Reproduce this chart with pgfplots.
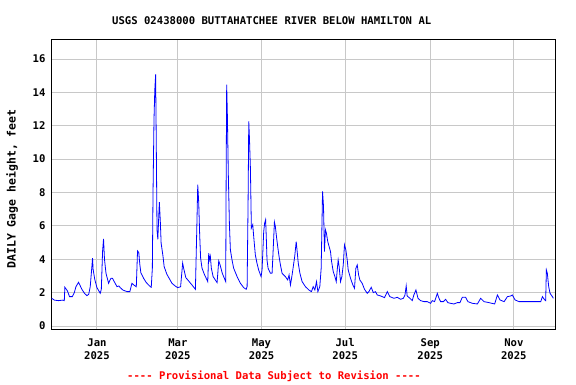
\documentclass[border=0pt]{standalone}
\usepackage{pgfplots}
\pgfplotsset{compat=1.18}
\usepackage{fontspec}
\setmainfont{DejaVu Sans Mono}
\setmonofont{DejaVu Sans Mono}
\definecolor{gridgray}{RGB}{200,200,200}
\begin{document}
\begin{tikzpicture}[x=1pt,y=1pt]
\path[use as bounding box] (0,0) rectangle (576,384);
\begin{axis}[
  at={(51pt,55pt)}, anchor=south west,
  scale only axis, width=504pt, height=290pt,
  xmin=-33.5, xmax=334, ymin=-0.18, ymax=17.2,
  xtick={0,59,120,181,243,304},
  xticklabels={Jan\\2025,Mar\\2025,May\\2025,Jul\\2025,Sep\\2025,Nov\\2025},
  ytick={0,2,4,6,8,10,12,14,16},
  xmajorgrids, ymajorgrids,
  grid style={gridgray, line width=0.9pt},
  major tick length=0pt,
  axis line style={black, line width=0.9pt},
  /pgf/number format/assume math mode=true,
  tick label style={font=\ttfamily\fontsize{10.6}{13}\selectfont\bfseries},
  xticklabel style={align=center, yshift=-6pt},
  yticklabel style={xshift=-2pt},
  ylabel={DAILY Gage height, feet},
  ylabel style={font=\ttfamily\fontsize{11.5}{13}\selectfont\bfseries, at={(axis description cs:-0.077,0.483)}, anchor=center},
  title={USGS 02438000 BUTTAHATCHEE RIVER BELOW HAMILTON AL},
  title style={font=\ttfamily\fontsize{10.6}{13}\selectfont\bfseries, at={(axis description cs:0.438,1)}, anchor=south, yshift=5pt},
  clip=true,
]
\addplot[blue, line width=0.8pt] coordinates {
(-33,1.66) (-31,1.55) (-28,1.52) (-25,1.55) (-23.8,1.52) (-23.4,2.32) (-21.5,2.1) (-20,1.76) (-18,1.76) (-16.5,2.0)
(-15.3,2.36) (-13.4,2.62) (-11,2.2) (-9,1.95) (-7.3,1.82) (-6,1.9) (-4.9,2.35) (-3.2,4.06) (-2.8,3.4) (-1.6,2.8)
(0,2.3) (2.4,1.96) (3.2,2.2) (4.1,4.46) (4.8,5.22) (5.5,4.0) (6.6,3.16) (8.5,2.56) (9.5,2.75) (10.3,2.86)
(11.3,2.86) (13,2.6) (14.6,2.36) (16,2.4) (17,2.3) (19,2.15) (22,2.06) (24,2.06) (25.5,2.56) (27,2.45)
(28.7,2.35) (29.6,4.5) (30.5,4.4) (31.3,3.66) (32,3.2) (34,2.86) (36,2.6) (39,2.35) (39.6,2.32) (40.4,3.46)
(40.9,8.03) (41.6,12.37) (42.2,14.17) (42.8,15.08) (43.3,10.57) (43.8,5.77) (44.4,5.2) (45.5,7.43) (46.2,6.3) (46.8,4.97)
(48.2,4.16) (49,3.56) (51,3.1) (54.7,2.56) (57,2.4) (58.8,2.3) (61,2.35) (62.5,3.77) (63.2,3.47) (64.8,2.9)
(69.3,2.46) (71.8,2.2) (72.8,5.8) (73.5,8.47) (74.2,7.43) (74.9,5.5) (75.6,4.07) (76.6,3.47) (78.3,3.1) (80.8,2.66)
(81.5,4.37) (82.2,3.96) (82.7,4.17) (83.4,3.47) (84.7,2.96) (87.6,2.6) (88.8,3.9) (89.8,3.66) (91.4,3.16) (92.9,2.86)
(93.9,2.66) (94.2,8.57) (94.6,14.47) (95.1,12.67) (95.8,9.07) (96.6,6.07) (97.3,4.56) (98.5,3.96) (99.7,3.46) (102.2,2.96)
(104.6,2.56) (107,2.3) (108.8,2.2) (109.5,2.36) (110.2,7.37) (110.7,12.27) (111.2,11.27) (111.9,9.47) (112.6,5.87) (113.6,6.07)
(114.3,5.36) (115.5,4.26) (116.7,3.76) (117.9,3.36) (119.7,2.96) (120.4,3.36) (121.6,5.66) (122.3,6.17) (123,6.37) (123.5,5.26)
(124,3.96) (124.8,3.46) (126.5,3.16) (127.7,3.16) (128.5,4.56) (129.4,6.23) (130.1,5.97) (130.9,5.36) (131.8,4.76) (132.8,4.16)
(133.8,3.66) (135,3.16) (137.4,2.96) (139.1,2.76) (140.1,3.06) (141.1,2.46) (142.3,3.06) (144.2,4.16) (145.3,5.06) (146,4.46)
(146.8,3.76) (148,3.16) (149.6,2.66) (152,2.36) (154.5,2.16) (156.4,2.06) (157.7,2.36) (158.9,2.16) (160.1,2.66) (161.1,2.06)
(162.5,2.36) (163.5,3.46) (164.5,8.07) (165.2,7.17) (165.9,4.46) (166.6,5.77) (167.3,5.57) (168.3,5.06) (169.3,4.76) (170.3,4.46)
(171.1,3.86) (172.3,3.26) (173.5,2.96) (174.5,2.66) (175.2,3.36) (175.9,3.96) (176.6,3.56) (177.6,2.66) (178.6,2.96) (179.6,3.66)
(180.5,4.86) (181.5,4.56) (182.5,3.96) (183.2,3.36) (184.9,2.86) (186.6,2.46) (187.8,2.26) (188.8,3.46) (189.8,3.66) (190.8,3.06)
(191.7,2.76) (193.4,2.56) (195.1,2.2) (197.1,1.96) (198.3,2.06) (200,2.32) (201.5,2.0) (203.1,2.06) (204.4,1.86) (206.9,1.8)
(209.7,1.7) (211.7,2.06) (213.6,1.76) (216.6,1.66) (219,1.72) (221.4,1.6) (223.4,1.66) (224.6,1.86) (225.5,2.4) (226.2,1.8)
(228.2,1.66) (229.9,1.52) (231.1,1.86) (232.6,2.16) (234.1,1.66) (236,1.52) (238.5,1.46) (240.9,1.46) (243.3,1.36) (244.5,1.52)
(246.2,1.46) (248.2,1.96) (249.4,1.66) (250.6,1.46) (252.6,1.46) (254.2,1.6) (255.9,1.4) (257.8,1.36) (260.3,1.32) (262.7,1.4)
(264.7,1.4) (266.4,1.72) (268.8,1.72) (270.5,1.46) (273.7,1.36) (277.4,1.32) (279.8,1.66) (282.2,1.46) (285.9,1.4) (290,1.32)
(292,1.86) (293.9,1.56) (296.9,1.46) (299.3,1.76) (301.7,1.8) (302.9,1.86) (304.9,1.56) (307.8,1.46) (312.7,1.46) (316.3,1.46)
(323.6,1.46) (324.8,1.76) (326.5,1.56) (327.2,1.52) (327.7,3.36) (328.4,3.16) (329.4,2.36) (330.4,1.96) (332.1,1.76) (332.8,1.66)
};
\end{axis}
\node[font=\ttfamily\fontsize{10.6}{13}\selectfont\bfseries, text=red] at (274,8) {---- Provisional Data Subject to Revision ----};
\end{tikzpicture}
\end{document}
